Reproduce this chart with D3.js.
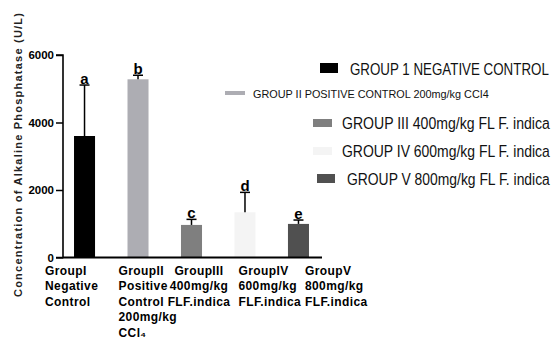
<!DOCTYPE html>
<html>
<head>
<meta charset="utf-8">
<script src="https://cdn.jsdelivr.net/npm/d3@7"></script>
<style>
  html, body { margin: 0; padding: 0; background: #fff; }
  svg { display: block; font-family: "Liberation Sans", Arial, sans-serif; }
</style>
</head>
<body>
<svg id="chart" width="555" height="341"></svg>
<script>
// ---- data ----
const groups = ["GroupI", "GroupII", "GroupIII", "GroupIV", "GroupV"];
const means = [3600, 5280, 965, 1340, 995];
const errors = [1510, 120, 165, 590, 115];
const sigLetters = ["a", "b", "c", "d", "e"];
const xLabelLines = [
  ["GroupI", "Negative", "Control"],
  ["GroupII", "Positive", "Control", "200mg/kg", "CCl\u2084"],
  ["GroupIII", "400mg/kg", "FLF.indica"],
  ["GroupIV", "600mg/kg", "FLF.indica"],
  ["GroupV", "800mg/kg", "FLF.indica"]
];
const legendLabels = [
  "GROUP 1 NEGATIVE CONTROL",
  "GROUP II POSITIVE CONTROL 200mg/kg CCI4",
  "GROUP III 400mg/kg FL F. indica",
  "GROUP IV 600mg/kg FL F. indica",
  "GROUP V 800mg/kg FL F. indica"
];
const yTicks = [0, 2000, 4000, 6000];
const yTitle = "Concentration of Alkaline Phosphatase (U/L)";

// ---- styles / layout ----
const colors = ["#000000", "#adadb3", "#7f7f7f", "#f4f4f4", "#505050"];
const labelLayout = [
  {dx: -29, anchor: "start"},
  {dx: -9, anchor: "start"},
  {dx: 18, anchor: "middle"},
  {dx: 4, anchor: "start"},
  {dx: 17, anchor: "start"}
];
const regular = "'Liberation Sans', Arial, sans-serif";
const legendLayout = [
  {sx: 320, sy: 63, sw: 18, sh: 10, tx: 350, ty: 75, tl: 199, fs: 16},
  {sx: 225, sy: 91, sw: 20, sh: 4,  tx: 253, ty: 97.5, tl: 236, fs: 11},
  {sx: 313, sy: 119, sw: 19, sh: 8, tx: 342, ty: 129, tl: 208, fs: 16},
  {sx: 313, sy: 147, sw: 19, sh: 8, tx: 342, ty: 157, tl: 208, fs: 16},
  {sx: 317, sy: 174, sw: 18, sh: 9, tx: 347, ty: 185, tl: 203, fs: 16}
];

const svg = d3.select("#chart");
const x0 = 63, x1 = 320, yBottom = 257.5, yTop = 55;

const x = d3.scaleBand().domain(groups).range([x0, x1])
  .paddingInner(0.607).paddingOuter(0.206);
const y = d3.scaleLinear().domain([0, 6000]).range([yBottom, yTop]);

// bars
svg.selectAll("rect.bar").data(groups).join("rect")
  .attr("class", "bar")
  .attr("x", d => x(d))
  .attr("width", x.bandwidth())
  .attr("y", (d, i) => y(means[i]))
  .attr("height", (d, i) => yBottom - y(means[i]))
  .attr("fill", (d, i) => colors[i]);

// error bars
const capW = 10;
groups.forEach((g, i) => {
  const cx = x(g) + x.bandwidth() / 2;
  const top = y(means[i] + errors[i]);
  svg.append("line").attr("x1", cx).attr("x2", cx)
    .attr("y1", y(means[i])).attr("y2", top)
    .attr("stroke", "#000").attr("stroke-width", 1.5);
  svg.append("line").attr("x1", cx - capW / 2).attr("x2", cx + capW / 2)
    .attr("y1", top).attr("y2", top)
    .attr("stroke", "#000").attr("stroke-width", 1.5);
  svg.append("text").attr("x", cx).attr("y", top - 1)
    .attr("text-anchor", "middle")
    .attr("font-size", 15).attr("font-weight", "bold")
    .text(sigLetters[i]);
});

// y axis
const yAxis = svg.append("g").attr("transform", `translate(${x0},0)`)
  .call(d3.axisLeft(y).tickValues(yTicks).tickSize(7).tickPadding(2).tickFormat(d3.format("d")));
yAxis.select(".domain").attr("stroke-width", 1.6).attr("d", `M-7,${yTop}H0V${yBottom}H-7`);
yAxis.selectAll(".tick line").attr("stroke-width", 1.5);
yAxis.selectAll(".tick text")
  .attr("font-size", 11.5).attr("font-weight", "bold")
  .attr("font-family", regular).attr("fill", "#000");

// x axis line
svg.append("line").attr("x1", x0).attr("x2", x1 + 2)
  .attr("y1", yBottom).attr("y2", yBottom)
  .attr("stroke", "#000").attr("stroke-width", 1.8);

// x labels
const labelTop = 274.5, lineGap = 15.6;
groups.forEach((g, i) => {
  const lx = x(g) + labelLayout[i].dx;
  const t = svg.append("text")
    .attr("x", lx).attr("y", labelTop)
    .attr("text-anchor", labelLayout[i].anchor)
    .attr("font-size", 12).attr("font-weight", "bold")
    .attr("letter-spacing", 0.4);
  xLabelLines[i].forEach((line, j) => {
    t.append("tspan").attr("x", lx).attr("y", labelTop + j * lineGap).text(line);
  });
});

// y title
svg.append("text")
  .attr("transform", "translate(22,155) rotate(-90)")
  .attr("text-anchor", "middle")
  .attr("font-size", 11).attr("font-weight", "bold")
  .attr("fill", "#222")
  .attr("textLength", 284).attr("lengthAdjust", "spacing")
  .text(yTitle);

// legend (condensed horizontally with a scale transform to fit the reference widths)
legendLabels.forEach((lab, i) => {
  const L = legendLayout[i];
  svg.append("rect").attr("x", L.sx).attr("y", L.sy)
    .attr("width", L.sw).attr("height", L.sh).attr("fill", colors[i]);
  const t = svg.append("text").attr("x", 0).attr("y", 0)
    .attr("font-size", L.fs).attr("fill", "#111")
    .attr("font-family", regular)
    .text(lab);
  const w = t.node().getComputedTextLength();
  const k = w > 0 ? L.tl / w : 1;
  t.attr("transform", `translate(${L.tx},${L.ty}) scale(${k},1)`);
});
</script>
</body>
</html>
